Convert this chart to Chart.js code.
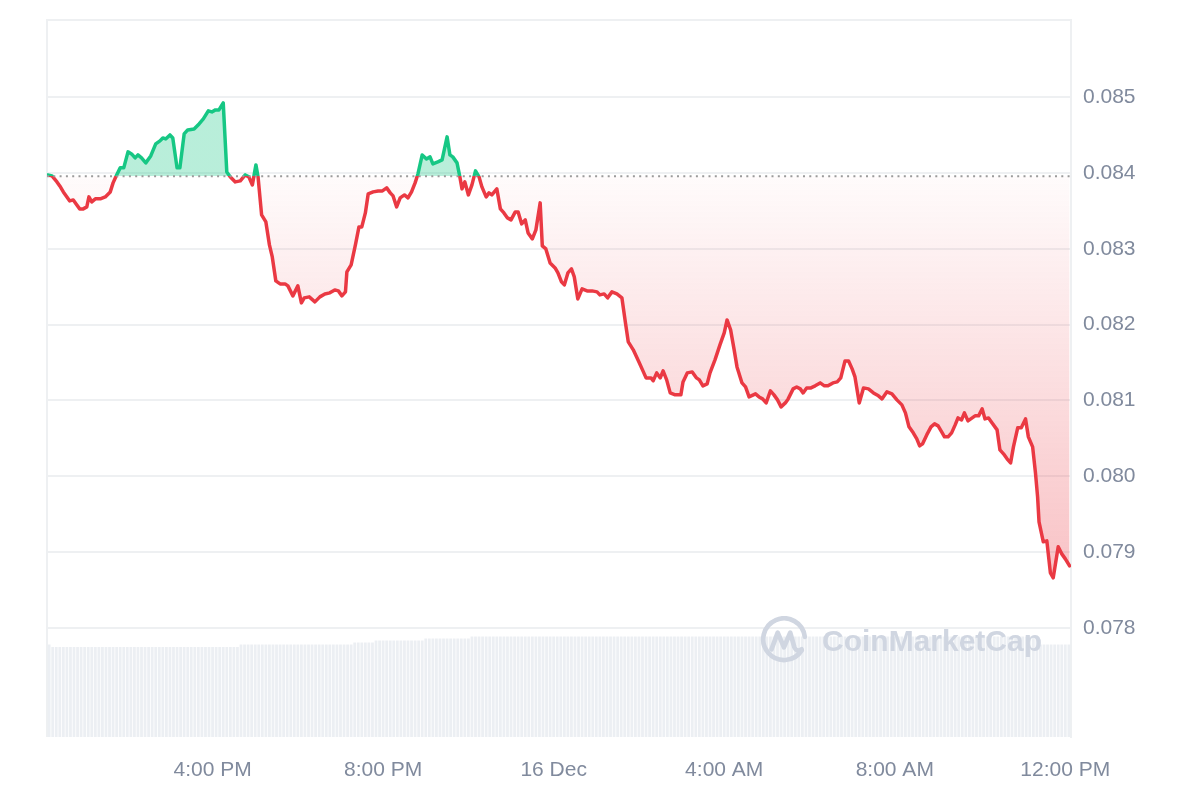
<!DOCTYPE html>
<html lang="en">
<head>
<meta charset="UTF-8">
<title>Price chart</title>
<script src="https://cdn.jsdelivr.net/npm/chart.js@4.4.1/dist/chart.umd.min.js"></script>
<style>
  body { margin: 0; background: #fff; }
  .wrap { position: relative; width: 1200px; height: 800px; }
  .watermark {
    position: absolute; left: 760px; top: 616px;
    display: flex; align-items: center; gap: 12px;
    color: #d0d6e1; font: bold 30px "Liberation Sans", Arial, sans-serif;
    pointer-events: none;
  }
</style>
</head>
<body>
<div class="wrap">
  <canvas id="priceChart" width="1200" height="800"></canvas>
  <div class="watermark">
    <svg width="50" height="50" viewBox="0 0 48 48">
      <path d="M40 33 A20 20 0 1 1 43 20" fill="none" stroke="#d0d6e1" stroke-width="4.5" stroke-linecap="round"/>
      <path d="M11 32 L17 16 L23 30 L29 16 L33 30 Q35 35 40 32" fill="none" stroke="#d0d6e1" stroke-width="4.5" stroke-linejoin="round" stroke-linecap="round"/>
    </svg>
    <span>CoinMarketCap</span>
  </div>
</div>

<script>
// time of each price point, minutes since 15 Dec 00:00
const priceTimes = [
  728, 734, 741, 745, 750, 755, 759, 764, 769, 773,
  778, 783, 786, 790, 795, 802, 809, 816, 820, 825,
  830, 835, 841, 846, 851, 855, 860, 866, 873, 880,
  886, 890, 894, 900, 904, 910, 914, 920, 925, 934,
  941, 947, 954, 959, 964, 969, 975, 980, 985, 992,
  999, 1006, 1011, 1016, 1021, 1024, 1029, 1035, 1040, 1044,
  1049, 1055, 1062, 1066, 1073, 1080, 1085, 1089, 1096, 1104,
  1111, 1118, 1125, 1132, 1137, 1142, 1147, 1149, 1155, 1161,
  1166, 1170, 1175, 1179, 1186, 1193, 1199, 1205, 1210, 1214,
  1219, 1224, 1230, 1235, 1240, 1245, 1249, 1255, 1261, 1266,
  1270, 1277, 1283, 1290, 1294, 1298, 1304, 1308, 1311, 1315,
  1320, 1325, 1330, 1335, 1339, 1345, 1349, 1353, 1360, 1365,
  1370, 1375, 1380, 1386, 1390, 1395, 1400, 1404, 1410, 1415,
  1421, 1424, 1429, 1435, 1442, 1446, 1451, 1455, 1460, 1465,
  1469, 1474, 1480, 1487, 1494, 1501, 1505, 1511, 1516, 1522,
  1529, 1536, 1541, 1545, 1552, 1560, 1565, 1570, 1577, 1580,
  1585, 1590, 1594, 1599, 1604, 1611, 1619, 1622, 1628, 1635,
  1641, 1645, 1650, 1656, 1660, 1667, 1674, 1680, 1684, 1689,
  1694, 1698, 1705, 1710, 1715, 1724, 1729, 1734, 1739, 1745,
  1750, 1755, 1760, 1766, 1770, 1777, 1782, 1787, 1791, 1796,
  1802, 1808, 1815, 1821, 1826, 1833, 1839, 1844, 1850, 1855,
  1860, 1864, 1870, 1876, 1883, 1890, 1897, 1902, 1909, 1916,
  1923, 1930, 1935, 1940, 1946, 1951, 1955, 1959, 1965, 1971,
  1976, 1981, 1986, 1990, 1995, 2000, 2005, 2009, 2014, 2018,
  2023, 2029, 2033, 2038, 2043, 2047, 2052, 2057, 2064, 2068,
  2073, 2078, 2083, 2087, 2093, 2098, 2104, 2108, 2114, 2118,
  2121, 2123, 2129, 2134, 2139, 2143, 2150, 2155, 2160, 2166
];

const prices = [
  0.083976, 0.083963, 0.083884, 0.083831, 0.083752, 0.083686, 0.083633, 0.083646, 0.083580, 0.083528,
  0.083528, 0.083554, 0.083686, 0.083620, 0.083660, 0.083660, 0.083686, 0.083752, 0.083871, 0.083976,
  0.084069, 0.084069, 0.084280, 0.084253, 0.084201, 0.084240, 0.084201, 0.084135, 0.084227, 0.084385,
  0.084425, 0.084464, 0.084451, 0.084504, 0.084464, 0.084069, 0.084069, 0.084517, 0.084570, 0.084583,
  0.084649, 0.084715, 0.084821, 0.084807, 0.084834, 0.084834, 0.084926, 0.084016, 0.083950, 0.083884,
  0.083897, 0.083976, 0.083950, 0.083844, 0.084108, 0.083950, 0.083449, 0.083356, 0.083053, 0.082894,
  0.082578, 0.082538, 0.082538, 0.082512, 0.082380, 0.082512, 0.082288, 0.082354, 0.082367, 0.082301,
  0.082367, 0.082406, 0.082420, 0.082459, 0.082446, 0.082380, 0.082433, 0.082697, 0.082789, 0.083053,
  0.083290, 0.083290, 0.083475, 0.083726, 0.083752, 0.083765, 0.083765, 0.083805, 0.083739, 0.083699,
  0.083554, 0.083673, 0.083712, 0.083673, 0.083752, 0.083871, 0.083989, 0.084240, 0.084187, 0.084214,
  0.084121, 0.084148, 0.084174, 0.084478, 0.084240, 0.084214, 0.084135, 0.083950, 0.083792, 0.083884,
  0.083712, 0.083844, 0.084029, 0.083950, 0.083818, 0.083686, 0.083739, 0.083712, 0.083792, 0.083528,
  0.083475, 0.083409, 0.083383, 0.083488, 0.083488, 0.083330, 0.083383, 0.083211, 0.083132, 0.083251,
  0.083607, 0.083040, 0.083000, 0.082815, 0.082749, 0.082683, 0.082565, 0.082525, 0.082683, 0.082736,
  0.082631, 0.082340, 0.082472, 0.082446, 0.082446, 0.082433, 0.082393, 0.082406, 0.082354, 0.082433,
  0.082406, 0.082354, 0.082024, 0.081773, 0.081668, 0.081509, 0.081404, 0.081298, 0.081298, 0.081259,
  0.081364, 0.081298, 0.081391, 0.081272, 0.081100, 0.081074, 0.081074, 0.081245, 0.081364, 0.081377,
  0.081298, 0.081272, 0.081193, 0.081219, 0.081364, 0.081536, 0.081734, 0.081892, 0.082063, 0.081931,
  0.081668, 0.081443, 0.081232, 0.081179, 0.081047, 0.081087, 0.081047, 0.081021, 0.080968, 0.081127,
  0.081074, 0.081008, 0.080916, 0.080968, 0.081021, 0.081153, 0.081179, 0.081153, 0.081100, 0.081166,
  0.081166, 0.081193, 0.081232, 0.081193, 0.081193, 0.081232, 0.081245, 0.081298, 0.081522, 0.081522,
  0.081417, 0.081311, 0.080968, 0.081166, 0.081153, 0.081100, 0.081061, 0.081021, 0.081114, 0.081087,
  0.081008, 0.080942, 0.080836, 0.080652, 0.080573, 0.080493, 0.080401, 0.080427, 0.080546, 0.080652,
  0.080691, 0.080665, 0.080586, 0.080520, 0.080520, 0.080573, 0.080678, 0.080770, 0.080744, 0.080836,
  0.080731, 0.080770, 0.080797, 0.080797, 0.080889, 0.080757, 0.080770, 0.080704, 0.080612, 0.080348,
  0.080296, 0.080230, 0.080177, 0.080388, 0.080639, 0.080639, 0.080757, 0.080520, 0.080388, 0.080045,
  0.079728, 0.079398, 0.079135, 0.079148, 0.078726, 0.078660, 0.079069, 0.078976, 0.078910, 0.078818
];

// price at the start of the window (dotted reference line)
const openPrice = 0.08396;

// 5 minute volume buckets, 12:10 PM .. 12:05 PM next day
const volTimes = [];
for (let t = 730; t <= 2165; t += 5) volTimes.push(t);

const volumes = [
  9.25, 9.0, 9.0, 9.0, 9.0, 9.0, 9.0, 9.0, 9.0, 9.0, 9.0, 9.0,
  9.0, 9.0, 9.0, 9.0, 9.0, 9.0, 9.0, 9.0, 9.0, 9.0, 9.0, 9.0,
  9.0, 9.0, 9.0, 9.0, 9.0, 9.0, 9.0, 9.0, 9.0, 9.0, 9.0, 9.0,
  9.0, 9.0, 9.0, 9.0, 9.0, 9.0, 9.0, 9.0, 9.0, 9.0, 9.0, 9.0,
  9.0, 9.0, 9.0, 9.0, 9.0, 9.0, 9.25, 9.25, 9.25, 9.25, 9.25, 9.25,
  9.25, 9.25, 9.25, 9.25, 9.25, 9.25, 9.25, 9.25, 9.25, 9.25, 9.25, 9.25,
  9.25, 9.25, 9.25, 9.25, 9.25, 9.25, 9.25, 9.25, 9.25, 9.25, 9.25, 9.25,
  9.25, 9.25, 9.45, 9.45, 9.45, 9.45, 9.45, 9.45, 9.65, 9.65, 9.65, 9.65,
  9.65, 9.65, 9.65, 9.65, 9.65, 9.65, 9.65, 9.65, 9.65, 9.65, 9.85, 9.85,
  9.85, 9.85, 9.85, 9.85, 9.85, 9.85, 9.85, 9.85, 9.85, 9.85, 9.85, 10.05,
  10.05, 10.05, 10.05, 10.05, 10.05, 10.05, 10.05, 10.05, 10.05, 10.05, 10.05, 10.05,
  10.05, 10.05, 10.05, 10.05, 10.05, 10.05, 10.05, 10.05, 10.05, 10.05, 10.05, 10.05,
  10.05, 10.05, 10.05, 10.05, 10.05, 10.05, 10.05, 10.05, 10.05, 10.05, 10.05, 10.05,
  10.05, 10.05, 10.05, 10.05, 10.05, 10.05, 10.05, 10.05, 10.05, 10.05, 10.05, 10.05,
  10.05, 10.05, 10.05, 10.05, 10.05, 10.05, 10.05, 10.05, 10.05, 10.05, 10.05, 10.05,
  10.05, 10.05, 10.05, 10.05, 10.05, 10.05, 10.05, 10.05, 10.05, 10.05, 10.05, 10.05,
  10.05, 10.05, 10.05, 10.05, 10.05, 10.05, 10.05, 10.05, 10.05, 10.05, 10.05, 10.05,
  10.05, 10.05, 10.05, 10.05, 10.05, 10.05, 10.05, 10.05, 10.05, 10.05, 10.05, 10.05,
  10.05, 10.05, 10.05, 10.05, 10.05, 10.05, 10.05, 10.05, 10.05, 10.05, 10.05, 10.05,
  10.05, 10.05, 10.05, 10.05, 10.05, 10.05, 10.05, 10.05, 10.05, 10.05, 10.05, 10.05,
  10.05, 10.05, 10.05, 10.05, 10.05, 10.05, 10.05, 10.05, 10.05, 10.05, 10.05, 10.05,
  10.05, 10.05, 10.05, 10.05, 10.05, 10.05, 10.05, 10.05, 10.05, 10.05, 10.05, 10.05,
  10.05, 10.05, 10.05, 10.05, 10.05, 10.05, 10.05, 10.05, 10.05, 10.05, 10.05, 10.05,
  10.05, 10.05, 10.05, 9.25, 9.25, 9.25, 9.25, 9.25, 9.25, 9.25, 9.25, 9.25
];

const tickTimes = [960, 1200, 1440, 1680, 1920, 2160];
const tickLabels = ['4:00 PM', '8:00 PM', '16 Dec', '4:00 AM', '8:00 AM', '12:00 PM'];
const priceTicks = [0.078, 0.079, 0.080, 0.081, 0.082, 0.083, 0.084, 0.085];

const GREEN = '#16c784';
const RED = '#ea3943';
const GRID = '#eef0f2';
const LABEL = '#808a9d';
const FONT = '"Liberation Sans", Arial, sans-serif';

// where the open price sits inside the chart area, 0 = top, 1 = bottom
function openStop(chart) {
  const a = chart.chartArea;
  const y = chart.scales.y.getPixelForValue(openPrice);
  return Math.min(Math.max((y - a.top) / (a.bottom - a.top), 0), 1);
}

function lineColor(context) {
  const chart = context.chart;
  if (!chart.chartArea) return RED;
  const a = chart.chartArea;
  const s = openStop(chart);
  const g = chart.ctx.createLinearGradient(0, a.top, 0, a.bottom);
  g.addColorStop(0, GREEN);
  g.addColorStop(s, GREEN);
  g.addColorStop(s, RED);
  g.addColorStop(1, RED);
  return g;
}

function areaColor(context) {
  const chart = context.chart;
  if (!chart.chartArea) return 'rgba(234,57,67,0.1)';
  const a = chart.chartArea;
  const s = openStop(chart);
  const g = chart.ctx.createLinearGradient(0, a.top, 0, a.bottom);
  g.addColorStop(0, 'rgba(22,199,132,0.3)');
  g.addColorStop(s, 'rgba(22,199,132,0.3)');
  g.addColorStop(s, 'rgba(234,57,67,0.02)');
  g.addColorStop(1, 'rgba(234,57,67,0.42)');
  return g;
}

// light frame on the left and top of the plot
const framePlugin = {
  id: 'frame',
  beforeDatasetsDraw(chart) {
    const { ctx, chartArea: a } = chart;
    ctx.save();
    ctx.strokeStyle = GRID;
    ctx.lineWidth = 2;
    ctx.beginPath();
    ctx.moveTo(a.left, a.bottom);
    ctx.lineTo(a.left, a.top);
    ctx.lineTo(a.right, a.top);
    ctx.stroke();
    ctx.restore();
  }
};

new Chart(document.getElementById('priceChart'), {
  type: 'line',
  data: {
    datasets: [
      {
        label: 'Open',
        data: [{ x: 727, y: openPrice }, { x: 2168, y: openPrice }],
        borderColor: '#9b9b9b',
        borderWidth: 2,
        borderDash: [2, 4.3],
        pointRadius: 0,
        fill: false,
        order: 0
      },
      {
        label: 'Price',
        data: priceTimes.map((t, i) => ({ x: t, y: prices[i] })),
        borderColor: lineColor,
        backgroundColor: areaColor,
        borderWidth: 3.5,
        borderJoinStyle: 'round',
        borderCapStyle: 'round',
        pointRadius: 0,
        tension: 0,
        fill: { target: { value: openPrice } },
        order: 1
      },
      {
        type: 'bar',
        label: 'Volume',
        yAxisID: 'vol',
        data: volTimes.map((t, i) => ({ x: t, y: volumes[i] })),
        backgroundColor: '#eceff3',
        barPercentage: 1,
        categoryPercentage: 0.78,
        order: 3
      }
    ]
  },
  options: {
    responsive: false,
    animation: false,
    layout: { padding: { left: 47, top: 20, right: 0, bottom: 0 } },
    plugins: {
      legend: { display: false },
      tooltip: { enabled: false }
    },
    scales: {
      x: {
        type: 'linear',
        min: 727,
        max: 2168,
        offset: false,
        grid: { display: false },
        border: { display: false },
        afterBuildTicks: s => { s.ticks = tickTimes.map(v => ({ value: v })); },
        afterFit: s => { s.height = 63; s.paddingLeft = 0; s.paddingRight = 0; },
        ticks: {
          autoSkip: false,
          maxRotation: 0,
          padding: 13,
          color: LABEL,
          font: { family: FONT, size: 21 },
          callback: v => tickLabels[tickTimes.indexOf(v)] || ''
        }
      },
      y: {
        position: 'right',
        min: 0.07656,
        max: 0.08602,
        grid: { color: GRID, lineWidth: 2, drawTicks: false },
        border: { display: true, color: GRID, width: 2 },
        afterBuildTicks: s => { s.ticks = priceTicks.map(v => ({ value: v })); },
        afterFit: s => { s.width = 129; s.paddingTop = 0; s.paddingBottom = 0; },
        ticks: {
          padding: 12,
          color: LABEL,
          font: { family: FONT, size: 21 },
          callback: v => v.toFixed(3)
        }
      },
      vol: {
        type: 'linear',
        display: false,
        min: 0,
        max: 71.7
      }
    }
  },
  plugins: [framePlugin]
});
</script>
</body>
</html>
